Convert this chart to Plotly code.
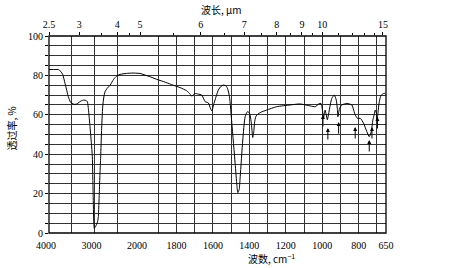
import plotly.graph_objects as go

# ---- spectrum values (wavenumber cm-1, transmittance %) ----
wavenumber = [4000, 3850, 3796, 3740, 3700, 3648, 3600, 3575, 3530, 3500, 3440, 3392, 3340, 3300,
              3230, 3190, 3158, 3130, 3099, 3070, 3048, 3030, 3015, 3004, 2990, 2960, 2930, 2916,
              2895, 2880, 2864, 2845, 2820, 2795, 2769, 2720, 2659, 2580, 2512, 2440, 2300, 2150,
              2000, 1950, 1908, 1860, 1817, 1780, 1744, 1725, 1716, 1705, 1698, 1680, 1661, 1650,
              1643, 1625, 1612, 1605, 1598, 1590, 1570, 1555, 1542, 1530, 1520, 1509, 1496, 1478,
              1468, 1463, 1456, 1450, 1436, 1423, 1410, 1399, 1390, 1381, 1375, 1372, 1363, 1341,
              1305, 1250, 1176, 1121, 1066, 1038, 1020, 1007, 998, 993, 987, 984, 978, 972, 966,
              955, 947, 934, 923, 917, 914, 908, 905, 892, 865, 850, 837, 825, 819, 806, 791, 773,
              755, 742, 731, 722, 715, 709, 703, 699, 694, 688, 680, 670, 658, 650]
transmittance = [83.0, 83.0, 83.0, 82.0, 80.5, 76.0, 71.5, 69.2, 66.5, 65.8, 65.3, 65.5, 66.3, 67.0,
                 67.5, 67.3, 66.7, 62.0, 54.0, 46.0, 38.7, 20.0, 5.0, 2.4, 3.0, 4.0, 6.0, 8.3,
                 20.0, 30.0, 38.7, 52.0, 64.0, 69.0, 71.7, 73.5, 75.0, 78.0, 79.7, 80.5, 81.0, 81.2,
                 81.0, 79.5, 78.0, 76.5, 75.0, 73.8, 72.2, 70.5, 69.5, 70.3, 70.8, 70.5, 70.0, 68.0,
                 66.7, 66.0, 63.0, 62.0, 64.5, 67.0, 72.6, 74.5, 75.1, 74.8, 73.5, 69.2, 55.7, 35.4,
                 24.0, 20.5, 22.0, 28.6, 47.2, 59.0, 61.6, 60.8, 56.5, 48.5, 52.0, 55.7, 59.4, 61.1,
                 62.4, 64.1, 65.0, 65.5, 64.5, 64.1, 65.5, 65.8, 62.0, 58.2, 61.5, 62.4, 60.0, 57.5, 60.0,
                 65.5, 68.4, 70.0, 67.5, 63.0, 59.0, 62.0, 63.3, 65.0, 65.8, 65.5, 65.0, 61.5, 59.9, 58.2, 58.2, 55.7,
                 51.4, 48.9, 51.4, 57.4, 60.0, 62.4, 61.0, 57.5, 61.0, 66.0, 69.2, 70.5, 70.9, 70.2]

# peak marker arrows (wavenumber, transmittance at arrow tip)
arrow_wn = [996, 969, 910, 819, 742, 727, 697]
arrow_t = [59.9, 53.3, 56.3, 53.8, 47.2, 53.8, 58.9]

# axis ticks
left_ticks = [4000, 3500, 3000, 2500, 2000]
left_text = ["4000", "", "3000", "", "2000"]
right_ticks = [2000, 1900, 1800, 1700, 1600, 1500, 1400, 1300, 1200, 1100, 1000, 900, 800, 700, 650]
right_text = ["", "", "1800", "", "1600", "", "1400", "", "1200", "", "1000", "", "800", "", "650"]
um_left = [2.5, 3, 4, 5]
um_right = [6, 7, 8, 9, 10, 15]
um_minor_left = [3.5, 4.5]
um_minor_right = [5.5, 6.5, 7.5, 8.5, 9.5, 11, 12, 13, 14]
y_ticks = list(range(0, 101, 5))
y_text = [str(v) if v % 20 == 0 else "" for v in y_ticks]

split = 2000
left_w = [w for w in wavenumber if w >= split]
left_t = [t for w, t in zip(wavenumber, transmittance) if w >= split]
right_w = [w for w in wavenumber if w <= split]
right_t = [t for w, t in zip(wavenumber, transmittance) if w <= split]

num_font = dict(family="Liberation Serif", size=10, color="black")
cjk = "Noto Sans CJK SC"
grid_col = "#333333"
D = (140 - 49) / (386 - 49)

fig = go.Figure()
line = dict(color="black", width=1, shape="spline", smoothing=0.6)
fig.add_trace(go.Scatter(x=left_w, y=left_t, xaxis="x", yaxis="y", mode="lines", line=line,
                         showlegend=False, hoverinfo="skip"))
fig.add_trace(go.Scatter(x=right_w, y=right_t, xaxis="x3", yaxis="y", mode="lines", line=line,
                         showlegend=False, hoverinfo="skip"))
# invisible traces to activate the top (wavelength) axes
fig.add_trace(go.Scatter(x=[4000, 2000], y=[50, 50], xaxis="x2", yaxis="y", mode="lines",
                         line=dict(width=0), opacity=0, showlegend=False, hoverinfo="skip"))
fig.add_trace(go.Scatter(x=[2000, 650], y=[50, 50], xaxis="x4", yaxis="y", mode="lines",
                         line=dict(width=0), opacity=0, showlegend=False, hoverinfo="skip"))

common_x = dict(showgrid=True, gridcolor=grid_col, gridwidth=1, zeroline=False,
                showline=False, tickfont=num_font, ticks="", fixedrange=True,
                ticklabelstandoff=5)

fig.update_layout(
    width=455, height=268,
    margin=dict(l=49, r=69, t=36, b=35),
    paper_bgcolor="white", plot_bgcolor="white",
    xaxis=dict(common_x, domain=[0, D], range=[4000, 2000], tickmode="array",
               tickvals=left_ticks, ticktext=left_text, anchor="y", ticklabelshift=3),
    xaxis3=dict(common_x, domain=[D, 1], range=[2000, 650], tickmode="array",
                tickvals=right_ticks, ticktext=right_text, anchor="y"),
    xaxis2=dict(overlaying="x", side="top", range=[4000, 2000], showgrid=False, zeroline=False,
                tickmode="array", tickvals=[1e4 / u for u in um_left],
                ticktext=[f"{u:g}" for u in um_left], ticks="outside", ticklen=3,
                tickcolor="black", tickfont=num_font, anchor="y",
                minor=dict(tickvals=[1e4 / u for u in um_minor_left], ticks="outside",
                           ticklen=2, tickcolor="black")),
    xaxis4=dict(overlaying="x3", side="top", range=[2000, 650], showgrid=False, zeroline=False,
                tickmode="array", tickvals=[1e4 / u for u in um_right],
                ticktext=[f"{u:g}" for u in um_right], ticks="outside", ticklen=3,
                tickcolor="black", tickfont=num_font, anchor="y",
                minor=dict(tickvals=[1e4 / u for u in um_minor_right], ticks="outside",
                           ticklen=2, tickcolor="black")),
    yaxis=dict(range=[0, 100], tickmode="array", tickvals=y_ticks, ticktext=y_text,
               showgrid=True, gridcolor=grid_col, gridwidth=1, zeroline=False,
               ticks="outside", ticklen=3, tickcolor="black", tickfont=num_font,
               fixedrange=True),
    shapes=[dict(type="rect", xref="paper", yref="paper", x0=0, x1=1, y0=0, y1=1,
                 line=dict(color="black", width=1.3))],
    annotations=[
        dict(text="波长, μm", xref="paper", yref="paper", x=0.513, y=1.137, showarrow=False,
             font=dict(family=cjk, size=10, color="black"), xanchor="center", yanchor="middle"),
        dict(text="波数, cm<sup>−1</sup>", xref="paper", yref="paper", x=0.66, y=-0.13,
             showarrow=False, font=dict(family=cjk, size=10, color="black"),
             xanchor="center", yanchor="middle"),
        dict(text="透过率, %", xref="paper", yref="paper", x=-0.11, y=0.53, textangle=-90,
             showarrow=False, font=dict(family=cjk, size=10, color="black"),
             xanchor="center", yanchor="middle"),
    ] + [
        dict(x=w, y=t, xref="x3", yref="y", text="", showarrow=True, ax=0, ay=13,
             arrowhead=2, arrowsize=0.8, arrowwidth=1, arrowcolor="black")
        for w, t in zip(arrow_wn, arrow_t)
    ],
)

fig.write_html("out.html")
